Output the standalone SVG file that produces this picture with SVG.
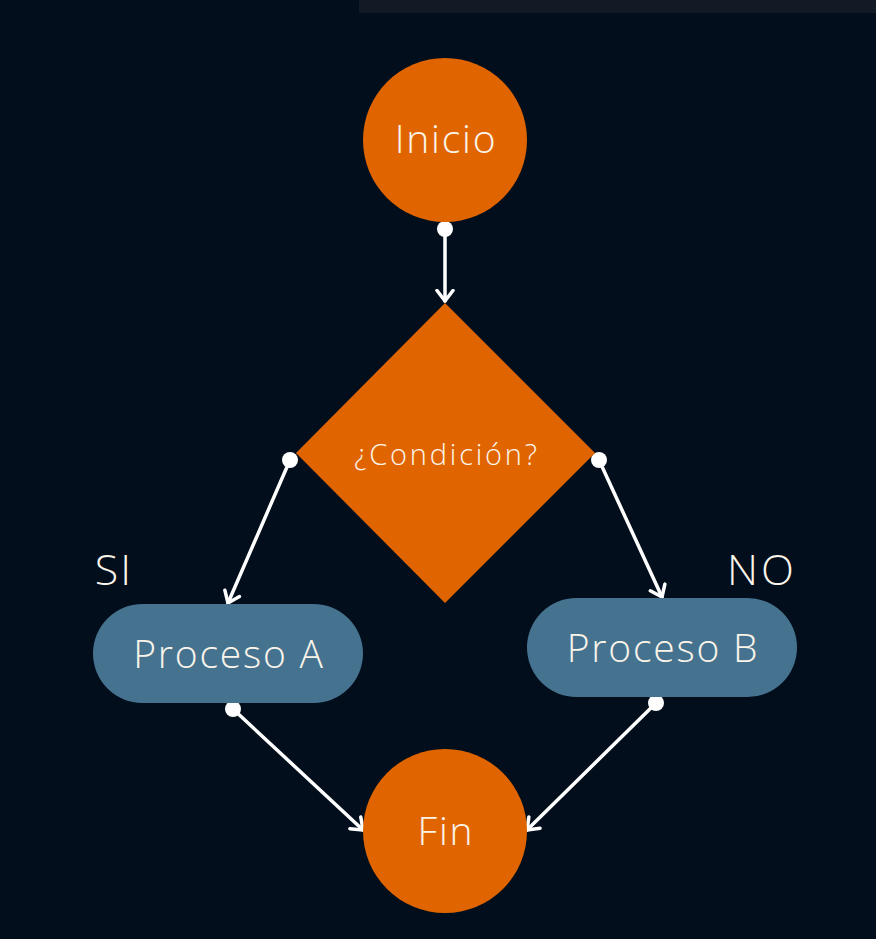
<svg xmlns="http://www.w3.org/2000/svg" width="876" height="939" viewBox="0 0 876 939">
  <defs>
    <style>
      .lbl { font-family: "Open Sans", Lato, "Liberation Sans", sans-serif; font-weight: 300; fill: #fbf4ea; text-anchor: middle; }
      .big { font-size: 39px; letter-spacing: 1.8px; }
      .term { fill: #e06500; }
      .proc { fill: #45738f; }
      .edge { stroke: #ffffff; stroke-width: 3.5; fill: none; stroke-linecap: round; }
      .dot { fill: #ffffff; }
    </style>
    <marker id="arrow" viewBox="0 0 14 20" refX="12.5" refY="10" markerWidth="14" markerHeight="20" markerUnits="userSpaceOnUse" orient="auto">
      <path d="M2,2 L12.5,10 L2,18" fill="none" stroke="#ffffff" stroke-width="3.5" stroke-linecap="round" stroke-linejoin="round"/>
    </marker>
  </defs>
  <rect x="0" y="0" width="876" height="939" fill="#020e1c"/>
  <rect x="359" y="0" width="517" height="13" fill="#121a25"/>

  <g id="edges">
    <line class="edge" x1="445" y1="229" x2="445" y2="301" marker-end="url(#arrow)"/>
    <circle class="dot" cx="445" cy="229" r="8"/>
    <line class="edge" x1="290" y1="460" x2="228" y2="603" marker-end="url(#arrow)"/>
    <circle class="dot" cx="290" cy="460" r="8"/>
    <line class="edge" x1="599" y1="460" x2="662" y2="597" marker-end="url(#arrow)"/>
    <circle class="dot" cx="599" cy="460" r="8"/>
    <line class="edge" x1="233" y1="709" x2="363" y2="830" marker-end="url(#arrow)"/>
    <circle class="dot" cx="233" cy="709" r="8"/>
    <line class="edge" x1="656" y1="703" x2="527" y2="830" marker-end="url(#arrow)"/>
    <circle class="dot" cx="656" cy="703" r="8"/>
  </g>

  <g id="inicio">
    <circle class="term" cx="445" cy="140" r="82"/>
    <text class="lbl big" x="446" y="153">Inicio</text>
  </g>

  <g id="condicion">
    <polygon class="term" points="445,303 595,453 445,603 296,453"/>
    <text class="lbl" x="447" y="465" font-size="29" letter-spacing="2.8">¿Condición?</text>
  </g>

  <g id="procesoA">
    <rect class="proc" x="93" y="604" width="270" height="99" rx="49.5"/>
    <text class="lbl big" x="229" y="668">Proceso A</text>
  </g>

  <g id="procesoB">
    <rect class="proc" x="527" y="598" width="270" height="99" rx="49.5"/>
    <text class="lbl big" x="663" y="662">Proceso B</text>
  </g>

  <g id="fin">
    <circle class="term" cx="445" cy="831" r="82"/>
    <text class="lbl big" x="446" y="845">Fin</text>
  </g>

  <g id="labels">
    <text class="lbl" x="114" y="585" font-size="43" letter-spacing="2">SI</text>
    <text class="lbl" x="762" y="585" font-size="43" letter-spacing="3">NO</text>
  </g>
</svg>
